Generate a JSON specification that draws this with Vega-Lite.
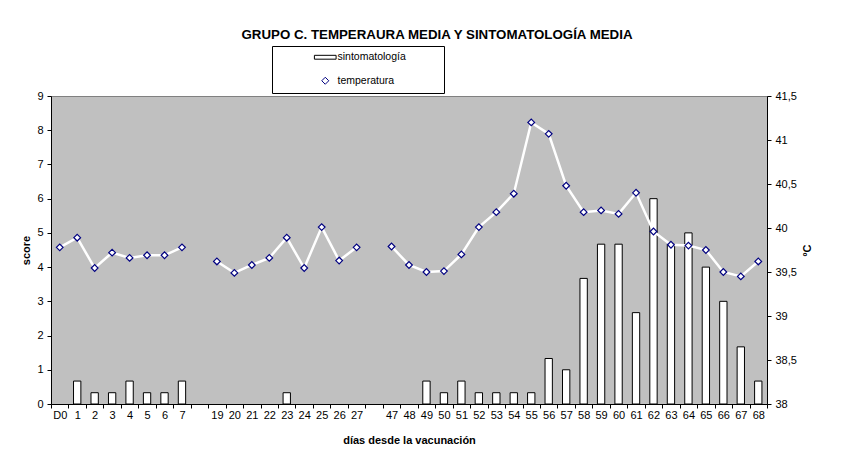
{
  "$schema": "https://vega.github.io/schema/vega-lite/v6.json",
  "width": 716,
  "height": 308,
  "autosize": {"type": "none"},
  "padding": {"left": 51, "top": 96, "right": 82, "bottom": 51},
  "background": "white",
  "title": {
    "text": "GRUPO C. TEMPERAURA MEDIA Y SINTOMATOLOGÍA MEDIA",
    "font": "Liberation Sans", "fontSize": 13.3, "fontWeight": "bold", "color": "black",
    "anchor": "middle", "frame": "group", "dx": 28, "offset": 4
  },
  "config": {
    "view": {"fill": "#C0C0C0", "stroke": "#808080"},
    "axis": {
      "domainColor": "black", "tickColor": "black", "labelColor": "black", "titleColor": "black",
      "labelFont": "Liberation Sans", "titleFont": "Liberation Sans", "labelFontSize": 11,
      "titleFontSize": 11, "titleFontWeight": "bold", "grid": false
    }
  },
  "data": {"values": [
    {"dia": "D0", "i": 0, "seg": 1, "score": null, "temp": 39.78},
    {"dia": "1", "i": 1, "seg": 1, "score": 0.67, "temp": 39.89},
    {"dia": "2", "i": 2, "seg": 1, "score": 0.33, "temp": 39.545},
    {"dia": "3", "i": 3, "seg": 1, "score": 0.33, "temp": 39.72},
    {"dia": "4", "i": 4, "seg": 1, "score": 0.67, "temp": 39.66},
    {"dia": "5", "i": 5, "seg": 1, "score": 0.33, "temp": 39.69},
    {"dia": "6", "i": 6, "seg": 1, "score": 0.33, "temp": 39.69},
    {"dia": "7", "i": 7, "seg": 1, "score": 0.67, "temp": 39.78},
    {"dia": " ", "i": 8, "seg": 0, "score": null, "temp": null},
    {"dia": "19", "i": 9, "seg": 2, "score": null, "temp": 39.62},
    {"dia": "20", "i": 10, "seg": 2, "score": null, "temp": 39.49},
    {"dia": "21", "i": 11, "seg": 2, "score": null, "temp": 39.58},
    {"dia": "22", "i": 12, "seg": 2, "score": null, "temp": 39.66},
    {"dia": "23", "i": 13, "seg": 2, "score": 0.33, "temp": 39.89},
    {"dia": "24", "i": 14, "seg": 2, "score": null, "temp": 39.545},
    {"dia": "25", "i": 15, "seg": 2, "score": null, "temp": 40.01},
    {"dia": "26", "i": 16, "seg": 2, "score": null, "temp": 39.63},
    {"dia": "27", "i": 17, "seg": 2, "score": null, "temp": 39.78},
    {"dia": "  ", "i": 18, "seg": 0, "score": null, "temp": null},
    {"dia": "47", "i": 19, "seg": 3, "score": null, "temp": 39.79},
    {"dia": "48", "i": 20, "seg": 3, "score": null, "temp": 39.58},
    {"dia": "49", "i": 21, "seg": 3, "score": 0.67, "temp": 39.5},
    {"dia": "50", "i": 22, "seg": 3, "score": 0.33, "temp": 39.51},
    {"dia": "51", "i": 23, "seg": 3, "score": 0.67, "temp": 39.7},
    {"dia": "52", "i": 24, "seg": 3, "score": 0.33, "temp": 40.01},
    {"dia": "53", "i": 25, "seg": 3, "score": 0.33, "temp": 40.18},
    {"dia": "54", "i": 26, "seg": 3, "score": 0.33, "temp": 40.39},
    {"dia": "55", "i": 27, "seg": 3, "score": 0.33, "temp": 41.2},
    {"dia": "56", "i": 28, "seg": 3, "score": 1.33, "temp": 41.07},
    {"dia": "57", "i": 29, "seg": 3, "score": 1.0, "temp": 40.48},
    {"dia": "58", "i": 30, "seg": 3, "score": 3.67, "temp": 40.18},
    {"dia": "59", "i": 31, "seg": 3, "score": 4.67, "temp": 40.2},
    {"dia": "60", "i": 32, "seg": 3, "score": 4.67, "temp": 40.16},
    {"dia": "61", "i": 33, "seg": 3, "score": 2.67, "temp": 40.4},
    {"dia": "62", "i": 34, "seg": 3, "score": 6.0, "temp": 39.96},
    {"dia": "63", "i": 35, "seg": 3, "score": 4.67, "temp": 39.81},
    {"dia": "64", "i": 36, "seg": 3, "score": 5.0, "temp": 39.8},
    {"dia": "65", "i": 37, "seg": 3, "score": 4.0, "temp": 39.75},
    {"dia": "66", "i": 38, "seg": 3, "score": 3.0, "temp": 39.5},
    {"dia": "67", "i": 39, "seg": 3, "score": 1.67, "temp": 39.45},
    {"dia": "68", "i": 40, "seg": 3, "score": 0.67, "temp": 39.62}
  ]},
  "layer": [
    {
      "mark": {"type": "bar", "fill": "white", "stroke": "black", "strokeWidth": 1, "width": {"band": 0.42}},
      "encoding": {
        "x": {
          "field": "dia", "type": "ordinal",
          "scale": {"domain": ["D0", "1", "2", "3", "4", "5", "6", "7", " ", "19", "20", "21", "22", "23", "24", "25", "26", "27", "  ", "47", "48", "49", "50", "51", "52", "53", "54", "55", "56", "57", "58", "59", "60", "61", "62", "63", "64", "65", "66", "67", "68"], "paddingInner": 0, "paddingOuter": 0},
          "axis": {"title": "días desde la vacunación", "labelAngle": 0, "tickBand": "extent", "tickSize": 4, "labelPadding": 1, "titlePadding": 14}
        },
        "y": {
          "field": "score", "type": "quantitative",
          "scale": {"domain": [0, 9], "nice": false},
          "axis": {"title": "score", "values": [0, 1, 2, 3, 4, 5, 6, 7, 8, 9], "tickSize": 4, "labelPadding": 4, "titlePadding": 5}
        }
      }
    },
    {
      "mark": {"type": "line", "color": "white", "strokeWidth": 2.5},
      "encoding": {
        "x": {"field": "dia", "type": "ordinal"},
        "y": {
          "field": "temp", "type": "quantitative",
          "scale": {"domain": [38, 41.5], "nice": false},
          "axis": {"orient": "right", "title": "ºC", "values": [38, 38.5, 39, 39.5, 40, 40.5, 41, 41.5],
                   "labelExpr": "replace(format(datum.value, '~g'), '.', ',')",
                   "tickSize": 4, "labelPadding": 4, "titlePadding": 5, "titleAngle": 270, "titleBaseline": "top"}
        },
        "detail": {"field": "seg"},
        "order": {"field": "i"}
      }
    },
    {
      "mark": {"type": "point", "shape": "diamond", "filled": true, "fill": "white", "strokeWidth": 1.2, "size": 45, "opacity": 1},
      "encoding": {
        "x": {"field": "dia", "type": "ordinal"},
        "y": {"field": "temp", "type": "quantitative", "scale": {"domain": [38, 41.5], "nice": false}, "axis": null},
        "shape": {
          "datum": "temperatura", "type": "nominal",
          "scale": {"domain": ["sintomatología", "temperatura"], "range": ["M-3.1,-0.55H3.1V0.55H-3.1Z", "diamond"]},
          "legend": {
            "title": null, "orient": "none", "legendX": 221, "legendY": -50,
            "strokeColor": "black", "fillColor": "white", "padding": 6,
            "symbolSize": 49, "symbolStrokeWidth": 1, "symbolFillColor": "white",
            "labelFont": "Liberation Sans", "labelFontSize": 10.5, "labelColor": "black", "labelLimit": 300,
            "rowPadding": 11.5, "symbolOffset": 42, "labelOffset": 7,
            "labelExpr": "datum.label + '\u00a0\u00a0\u00a0\u00a0\u00a0\u00a0\u00a0\u00a0\u00a0\u00a0\u00a0\u200b'"
          }
        },
        "stroke": {
          "datum": "temperatura", "type": "nominal",
          "scale": {"domain": ["sintomatología", "temperatura"], "range": ["black", "#000080"]},
          "legend": {
            "title": null, "orient": "none", "legendX": 221, "legendY": -50,
            "strokeColor": "black", "fillColor": "white", "padding": 6,
            "symbolSize": 49, "symbolStrokeWidth": 1, "symbolFillColor": "white",
            "labelFont": "Liberation Sans", "labelFontSize": 10.5, "labelColor": "black", "labelLimit": 300,
            "rowPadding": 11.5, "symbolOffset": 42, "labelOffset": 7,
            "labelExpr": "datum.label + '\u00a0\u00a0\u00a0\u00a0\u00a0\u00a0\u00a0\u00a0\u00a0\u00a0\u00a0\u200b'"
          }
        }
      }
    }
  ],
  "resolve": {"scale": {"y": "independent"}, "axis": {"y": "independent"}}
}
